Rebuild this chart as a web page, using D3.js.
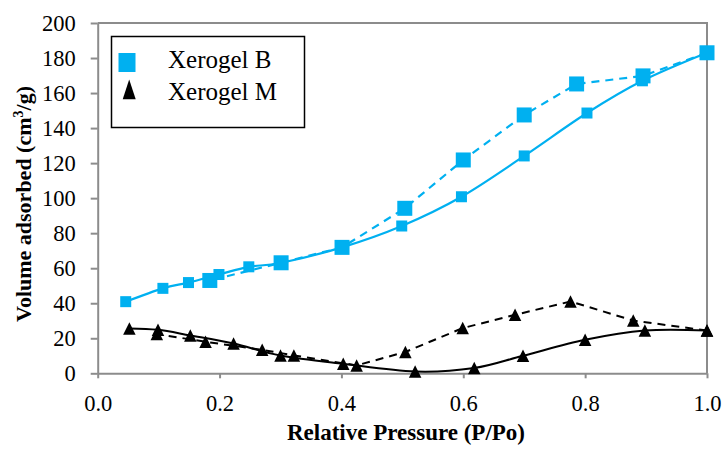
<!DOCTYPE html>
<html>
<head>
<meta charset="utf-8">
<script src="https://cdn.jsdelivr.net/npm/d3@7"></script>
<style>
  html, body { margin: 0; padding: 0; background: #fff; }
  svg { display: block; }
</style>
</head>
<body>
<svg id="chart" width="728" height="449"></svg>
<script>
// ---- data ----
const xTicks = [0, 0.2, 0.4, 0.6, 0.8, 1.0];
const yTicks = [0, 20, 40, 60, 80, 100, 120, 140, 160, 180, 200];

const seriesNames = ["Xerogel B", "Xerogel M"];

const bAdsX = [0.046, 0.107, 0.149, 0.199, 0.248, 0.300, 0.401, 0.499, 0.597, 0.700, 0.803, 0.894, 1.000];
const bAdsY = [40.9, 48.5, 51.8, 56.4, 60.8, 63.0, 71.9, 84.1, 100.8, 124.1, 148.6, 167.0, 183.0];

const bDesX = [1.000, 0.895, 0.786, 0.700, 0.600, 0.504, 0.401, 0.301, 0.184];
const bDesY = [183.0, 169.8, 165.2, 147.5, 121.8, 94.2, 71.9, 63.1, 53.0];

const mAdsX = [0.052, 0.099, 0.152, 0.223, 0.300, 0.403, 0.521, 0.618, 0.698, 0.800, 0.898, 1.000];
const mAdsY = [25.6, 24.8, 21.6, 17.0, 10.2, 5.4, 1.0, 3.0, 10.0, 19.1, 24.4, 24.4];

const mDesX = [1.000, 0.879, 0.776, 0.685, 0.599, 0.505, 0.425, 0.322, 0.270, 0.177, 0.097];
const mDesY = [24.4, 30.1, 41.0, 33.4, 25.8, 12.2, 4.5, 10.2, 13.4, 18.0, 22.4];

// ---- layout ----
const svg = d3.select("#chart");
const W = 728, H = 449;
const blue = "#00B0F0";
const axisGray = "#8c8c8c";
const serif = "'Liberation Serif', 'Times New Roman', serif";
const pLeft = 97.7, pRight = 707, pTop = 23, pBottom = 373.3;

svg.append("rect").attr("width", W).attr("height", H).attr("fill", "#fff");

const x = d3.scaleLinear().domain([0, 1]).range([pLeft, pRight]);
const y = d3.scaleLinear().domain([0, 200]).range([pBottom, pTop]);

// frame (top / right)
svg.append("path")
  .attr("d", `M${pLeft},${pTop}H${pRight}V${pBottom}`)
  .attr("fill", "none").attr("stroke", axisGray).attr("stroke-width", 2);

// axes
const xAxis = svg.append("g").attr("transform", `translate(0,${pBottom})`)
  .call(d3.axisBottom(x).tickValues(xTicks).tickFormat(d3.format(".1f"))
        .tickSizeInner(5).tickSizeOuter(0).tickPadding(17));
const yAxis = svg.append("g").attr("transform", `translate(${pLeft},0)`)
  .call(d3.axisLeft(y).tickValues(yTicks).tickFormat(d3.format("d"))
        .tickSizeInner(7).tickSizeOuter(0).tickPadding(15));
[xAxis, yAxis].forEach(g => {
  g.select(".domain").attr("stroke", axisGray).attr("stroke-width", 2);
  g.selectAll(".tick line").attr("stroke", axisGray).attr("stroke-width", 2);
  g.selectAll(".tick text")
    .attr("fill", "#000")
    .style("font-family", serif)
    .style("font-size", "22.5px");
});
yAxis.selectAll(".tick text").attr("dy", "0.34em");

// axis titles
svg.append("text")
  .attr("x", 406).attr("y", 440)
  .attr("text-anchor", "middle")
  .style("font-family", serif)
  .style("font-size", "23px").style("font-weight", "bold")
  .text("Relative Pressure (P/Po)");

const yt = svg.append("text")
  .attr("transform", `translate(31,204) rotate(-90)`)
  .attr("text-anchor", "middle")
  .style("font-family", serif)
  .style("font-size", "22px").style("font-weight", "bold");
yt.append("tspan").text("Volume adsorbed (cm");
yt.append("tspan").attr("dy", -8).style("font-size", "14px").text("3");
yt.append("tspan").attr("dy", 8).text("/g)");

// ---- lines ----
const zip = (xs, ys) => xs.map((v, i) => [v, ys[i]]);
const smooth = d3.line().x(d => x(d[0])).y(d => y(d[1])).curve(d3.curveCardinal.tension(0));
const straight = d3.line().x(d => x(d[0])).y(d => y(d[1]));

const bAds = zip(bAdsX, bAdsY), bDes = zip(bDesX, bDesY);
const mAds = zip(mAdsX, mAdsY), mDes = zip(mDesX, mDesY);

svg.append("path").attr("d", smooth(bAds)).attr("fill", "none")
  .attr("stroke", blue).attr("stroke-width", 2.2);
svg.append("path").attr("d", straight(bDes)).attr("fill", "none")
  .attr("stroke", blue).attr("stroke-width", 2.2).attr("stroke-dasharray", "8,6");
svg.append("path").attr("d", smooth(mAds)).attr("fill", "none")
  .attr("stroke", "#000").attr("stroke-width", 2);
svg.append("path").attr("d", straight(mDes)).attr("fill", "none")
  .attr("stroke", "#000").attr("stroke-width", 2).attr("stroke-dasharray", "8,6");

// ---- markers ----
function squares(data, size) {
  svg.append("g").selectAll("rect").data(data).join("rect")
    .attr("x", d => x(d[0]) - size / 2).attr("y", d => y(d[1]) - size / 2)
    .attr("width", size).attr("height", size).attr("fill", blue);
}
function triangles(data, w, h) {
  svg.append("g").selectAll("path").data(data).join("path")
    .attr("d", d => {
      const cx = x(d[0]), cy = y(d[1]);
      return `M${cx},${cy - h / 2}L${cx + w / 2},${cy + h / 2}L${cx - w / 2},${cy + h / 2}Z`;
    })
    .attr("fill", "#000");
}
squares(bAds, 11);
squares(bDes, 15);
triangles(mAds, 12.5, 12.5);
triangles(mDes, 12.5, 12.5);

// ---- legend ----
const lg = svg.append("g");
lg.append("rect").attr("x", 111.5).attr("y", 36.5).attr("width", 193).attr("height", 91)
  .attr("fill", "#fff").attr("stroke", "#000").attr("stroke-width", 1.5);
lg.append("rect").attr("x", 118.5).attr("y", 53).attr("width", 17).attr("height", 19).attr("fill", blue);
lg.append("path").attr("d", "M129.2,79.5L135.7,99.3L122.7,99.3Z").attr("fill", "#000");
lg.selectAll("text").data(seriesNames).join("text")
  .attr("x", 168).attr("y", (d, i) => 68 + i * 32)
  .style("font-family", serif)
  .style("font-size", "25px")
  .text(d => d);
</script>
</body>
</html>
